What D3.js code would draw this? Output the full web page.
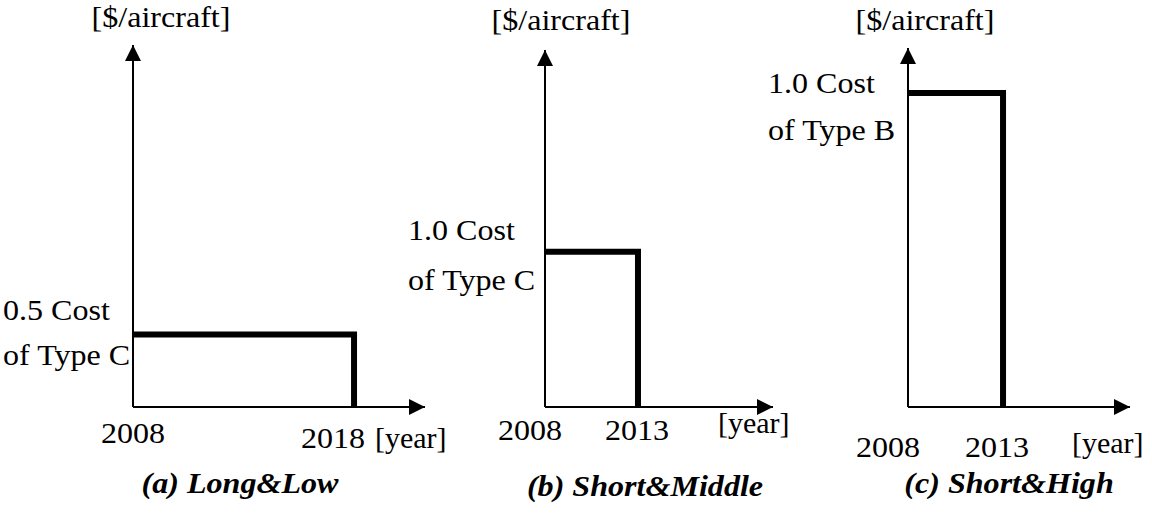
<!DOCTYPE html>
<html>
<head>
<meta charset="utf-8">
<script src="https://cdn.jsdelivr.net/npm/d3@7"></script>
<style>
  html, body { margin: 0; padding: 0; background: #fff; }
  svg { display: block; }
  text { font-family: "Liberation Serif", "Times New Roman", serif; fill: #000; }
</style>
</head>
<body>
<script>
// Per-scenario cost profiles: a flat cost from start year until end year
const panelTitles = ["(a) Long&Low", "(b) Short&Middle", "(c) Short&High"];
const startYears = [2008, 2008, 2008];
const endYears = [2018, 2013, 2013];
const costValues = [0.5, 1.0, 1.0];
const costLines1 = ["0.5 Cost", "1.0 Cost", "1.0 Cost"];
const costLines2 = ["of Type C", "of Type C", "of Type B"];
const tickLabels = [["2008", "2018"], ["2008", "2013"], ["2008", "2013"]];
const yUnitLabel = "[$/aircraft]";
const xUnitLabel = "[year]";

// Geometry of each small diagram
const layout = [
  { x0: 133, x1: 425, yearSpan: 13.21, yTop: 45, yMax: 2.5,
    tickDx: [0, -21], tickY: [443, 448], costX: 3, costY: [320, 365],
    yUnitX: 161, yUnitY: 27, xUnitX: 375, xUnitY: 448, titleX: 240, titleY: 493 },
  { x0: 545, x1: 773, yearSpan: 12.26, yTop: 50, yMax: 2.3,
    tickDx: [-15, -1], tickY: [440, 440], costX: 408, costY: [240, 290],
    yUnitX: 561, yUnitY: 30, xUnitX: 718, xUnitY: 433, titleX: 645, titleY: 496 },
  { x0: 908, x1: 1130, yearSpan: 11.68, yTop: 48, yMax: 1.143,
    tickDx: [-20, -6], tickY: [457, 457], costX: 768, costY: [93, 140],
    yUnitX: 925, yUnitY: 30, xUnitX: 1072, xUnitY: 453, titleX: 1009, titleY: 493 }
];
const baseY = 407;
const fontSize = 30;
const stretch = 1.07;

const svg = d3.select("body").append("svg")
  .attr("width", 1152).attr("height", 516);

svg.append("defs").append("marker")
  .attr("id", "arrow")
  .attr("viewBox", "0 0 10 10")
  .attr("refX", 10).attr("refY", 5)
  .attr("markerWidth", 17).attr("markerHeight", 16)
  .attr("markerUnits", "userSpaceOnUse")
  .attr("orient", "auto")
  .append("path").attr("d", "M0,0 L10,5 L0,10 Z").attr("fill", "#000");

function label(g, str, x, y, anchor, opts = {}) {
  return g.append("text")
    .attr("transform", `translate(${x},${y}) scale(${opts.stretch || stretch},1)`)
    .attr("text-anchor", anchor)
    .attr("font-size", opts.size || fontSize)
    .attr("font-weight", opts.weight || "normal")
    .attr("font-style", opts.style || "normal")
    .text(str);
}

layout.forEach((L, i) => {
  const g = svg.append("g");
  const x = d3.scaleLinear()
    .domain([startYears[i], startYears[i] + L.yearSpan])
    .range([L.x0, L.x1]);
  const y = d3.scaleLinear()
    .domain([0, L.yMax])
    .range([baseY, L.yTop]);

  // axes with arrowheads
  g.append("line")
    .attr("x1", x(startYears[i])).attr("y1", y(0))
    .attr("x2", x(startYears[i])).attr("y2", y(L.yMax))
    .attr("stroke", "#000").attr("stroke-width", 2)
    .attr("marker-end", "url(#arrow)");
  g.append("line")
    .attr("x1", x(startYears[i])).attr("y1", y(0))
    .attr("x2", x(startYears[i] + L.yearSpan)).attr("y2", y(0))
    .attr("stroke", "#000").attr("stroke-width", 2)
    .attr("marker-end", "url(#arrow)");

  // cost step: flat value until end year, then drop to zero
  const step = d3.line().x(d => x(d[0])).y(d => y(d[1]));
  g.append("path")
    .attr("d", step([[startYears[i], costValues[i]], [endYears[i], costValues[i]], [endYears[i], 0]]))
    .attr("fill", "none").attr("stroke", "#000")
    .attr("stroke-width", 6).attr("stroke-linejoin", "miter");

  // year tick labels
  label(g, tickLabels[i][0], x(startYears[i]) + L.tickDx[0], L.tickY[0], "middle");
  label(g, tickLabels[i][1], x(endYears[i]) + L.tickDx[1], L.tickY[1], "middle");

  // cost annotation
  label(g, costLines1[i], L.costX, L.costY[0], "start");
  label(g, costLines2[i], L.costX, L.costY[1], "start");

  // units
  label(g, yUnitLabel, L.yUnitX, L.yUnitY, "middle");
  label(g, xUnitLabel, L.xUnitX, L.xUnitY, "start", { stretch: 1.0 });

  // panel caption
  label(g, panelTitles[i], L.titleX, L.titleY, "middle", { weight: "bold", style: "italic" });
});
</script>
</body>
</html>
